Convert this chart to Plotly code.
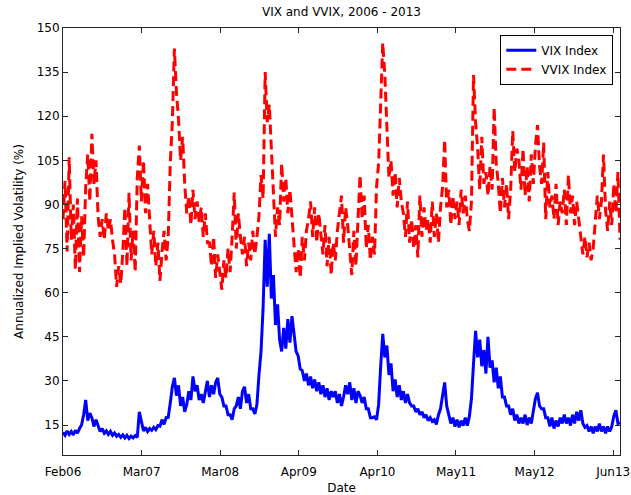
import pandas as pd
import plotly.graph_objects as go

start_date = "2006-02-20"
step = "10D"

vvix = [85, 98, 74, 106, 78,
        90, 68, 92, 67, 86, 72,
        96, 107, 91, 114, 97, 105,
        86, 79, 85, 78, 87, 81, 85, 78,
        73, 62, 69, 63,
        74, 89, 69, 94, 71, 81, 67,
        99, 110, 91, 105, 87, 97,
        85, 73, 81, 69, 77, 64,
        74, 81, 71, 79,
        104, 118, 143, 128,
        119, 105, 113,
        97, 87, 93, 83, 95, 85, 91,
        84, 89, 79, 87, 77,
        77, 69, 79, 65, 73, 67, 61, 71, 65, 75, 67,
        79, 94, 75, 87, 79,
        73, 79, 69, 77, 71, 81, 73, 79,
        86, 100, 92,
        135, 118,
        124, 107,
        93, 79, 89, 83,
        104, 91, 99, 87, 95, 85,
        77, 67, 75, 65,
        79, 71, 81,
        85, 91, 79, 89, 77, 87,
        81, 73, 83, 69, 79, 66, 77, 71, 81,
        87, 93, 77, 89,
        83, 73, 66, 81, 69, 85,
        100, 85, 93,
        75, 83, 71, 79, 73,
        96, 104,
        128, 145, 134,
        116, 99,
        105, 93, 101, 89, 99, 91,
        87, 79, 91, 77, 85, 75, 83,
        72, 93, 79, 89, 81,
        85, 77, 91, 79, 87, 77, 89,
        96, 112,
        89, 95, 83, 93, 85, 91, 83, 95, 87, 93, 85,
        81, 91,
        134, 118,
        109, 95, 113, 97,
        101, 93, 103, 95,
        123, 104,
        97, 87, 99, 89, 97, 85, 95,
        115, 101, 109,
        105, 95, 109, 93, 103, 91, 107, 97,
        110, 117, 103,
        97, 111, 85, 101, 89,
        93, 85, 97, 83, 91, 87, 95, 83, 100, 87, 93, 83, 91, 85,
        81, 73, 79, 72, 77, 71, 75,
        84, 93, 85, 91,
        107, 88,
        81, 91, 83,
        97, 87, 101,
        78]

vix = [12.5, 11.5, 13, 11.8, 12.8, 11.6, 13.2, 12.2, 13.8,
       15, 18.5, 23.5,
       16.5, 19,
       17.5, 14.5, 16.8,
       14.5, 12.8, 13.8, 12.2, 13, 11.8, 12.8, 11.5, 12.3, 11.2,
       11.8, 10.8, 11.6, 10.6, 11.5, 10.4, 11.2, 10.6, 11.4, 10.8,
       19.5, 16.5,
       13, 14.2, 12.8, 13.8, 13.2, 14.2, 13.4, 14.8,
       14.6, 16.8, 15.2, 17.5, 17.6, 22.5,
       28, 31,
       25, 28.5, 21.5, 24.5, 19.5,
       22, 26.5, 23.5, 31.5,
       26.5, 28.5, 23.5, 25.5, 22.5,
       26.5, 30, 24.5, 28.5, 25.5, 29.5, 31, 25.5,
       24.5, 21.5, 21.5, 18.5, 18.5, 16.8,
       20.5, 21.5, 24.5, 20.5, 26.5, 28, 22.5, 25.5,
       20.5, 20.5, 18.8, 22,
       32, 40,
       55, 78,
       62, 80,
       58, 66, 49, 56,
       44, 40, 48, 41, 51, 43, 52,
       45, 40, 38.5, 34, 33.5, 30,
       32.5, 28.5, 31.5, 27.5, 30.5, 26.5,
       29.5, 25.5, 28.5, 24.5, 27.5, 23.5, 26.5, 24.5, 26.5, 22.5, 25.5, 21.5, 24.5,
       28.5, 25.5, 29.5, 23.5, 27.5, 22.5, 26.5,
       25, 22.5, 24.5,
       20.5, 20.5, 17.5, 17.5, 17.8, 16.8,
       22, 35,
       46, 38,
       42, 32, 36,
       26.5, 30.5, 24.5, 28.5, 23.5, 26.5, 22.5, 25.5,
       22.5, 21.5, 21.5, 19.5, 20.5, 18.5, 19.5, 17.5, 18.5, 16.5, 17.5, 16.2, 16.8, 15.2, 18.5,
       20.5, 25,
       29.5, 21.5,
       18.5, 15.5, 17.5, 14.5, 16.8, 14.2, 16.5, 14.8, 17.5, 14.8, 18,
       24, 36,
       47, 38,
       44, 35, 40.5, 32.5,
       45, 34.5,
       37, 29.5, 34.5, 27.5, 31.5, 24.5,
       24.5, 21.5, 21.5, 18.5, 20.5, 16.5, 18.5, 15.5, 17.5,
       15.5, 18.5, 15, 17.5, 15.5,
       20, 24, 26,
       21.5, 20.5, 20.5, 17.5,
       17.5, 14.5, 17.5, 13.8, 16.5, 14.5, 17.5, 15.5,
       18.5, 15.5, 17.5, 14.8, 18.5, 15.5, 19.5, 16.5, 20,
       15.5, 14.2, 14.8, 12.8, 14.5, 12.2, 14.5, 12.8, 15.5, 12.8, 14.5, 12.2, 14.5, 12.8, 14.5,
       18, 20, 15.5, 15.8]

tick_dates = ["2006-02-20", "2007-03-08", "2008-03-23", "2009-04-08",
              "2010-04-24", "2011-05-10", "2012-05-25", "2013-06-10"]
tick_labels = ["Feb06", "Mar07", "Mar08", "Apr09", "Apr10", "May11", "May12", "Jun13"]
y_ticks = [15, 30, 45, 60, 75, 90, 105, 120, 135, 150]

dates_vix = pd.date_range(start_date, periods=len(vix), freq=step)
dates_vvix = pd.date_range(start_date, periods=len(vvix), freq=step)

FONT = "DejaVu Sans, Liberation Sans, Arial, sans-serif"
FS = 12

fig = go.Figure()
fig.add_trace(go.Scatter(x=dates_vix, y=vix, mode="lines", name="VIX Index",
                         line=dict(color="#0000FF", width=3)))
fig.add_trace(go.Scatter(x=dates_vvix, y=vvix, mode="lines", name="VVIX Index",
                         line=dict(color="#FF0000", width=3, dash="10px,5px")))

axis_common = dict(showline=True, linecolor="#262626", linewidth=1, mirror="ticks",
                   ticks="inside", ticklen=5, tickcolor="#262626", showgrid=False,
                   zeroline=False, automargin=False,
                   tickfont=dict(family=FONT, size=FS, color="#000"))

fig.update_xaxes(type="date", range=[dates_vvix[0], dates_vvix[-1]],
                 tickvals=tick_dates, ticktext=tick_labels, ticklabelstandoff=6,
                 title=dict(text="Date", font=dict(family=FONT, size=FS, color="#000"), standoff=6),
                 **axis_common)
fig.update_yaxes(range=[4.8, 150], tickvals=y_ticks,
                 title=dict(text="Annualized Implied Volatility (%)",
                            font=dict(family=FONT, size=FS, color="#000"), standoff=10),
                 **axis_common)

fig.update_layout(
    width=631, height=495,
    margin=dict(l=63, r=11, t=28, b=40),
    paper_bgcolor="white", plot_bgcolor="white",
    title=dict(text="VIX and VVIX, 2006 - 2013", x=(63 + 620) / 2 / 631, xanchor="center",
               y=1 - 12 / 495, yanchor="middle",
               font=dict(family=FONT, size=FS, color="#000")),
    legend=dict(x=0.988, xanchor="right", y=0.984, yanchor="top",
                bgcolor="white", bordercolor="#000", borderwidth=1,
                entrywidth=88, entrywidthmode="pixels",
                font=dict(family=FONT, size=FS, color="#000")),
    showlegend=True,
)

fig.write_html("out.html", config={"displayModeBar": False},
               post_script="document.body.style.margin='0';")
